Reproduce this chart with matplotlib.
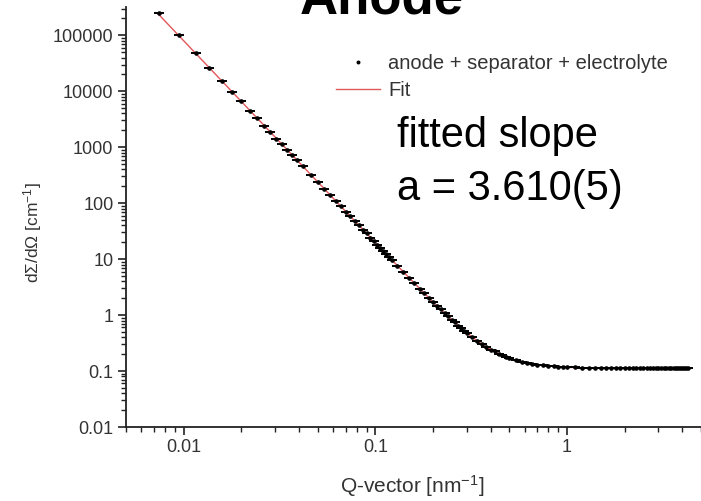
import matplotlib
matplotlib.use("Agg")
import matplotlib.pyplot as plt
import numpy as np
from matplotlib.ticker import FixedLocator, FixedFormatter, LogLocator, NullFormatter

plt.rcParams["font.family"] = ["Liberation Sans", "DejaVu Sans"]
plt.rcParams["mathtext.fontset"] = "custom"
plt.rcParams["mathtext.rm"] = "Liberation Sans"
plt.rcParams["mathtext.it"] = "Liberation Sans:italic"
plt.rcParams["mathtext.bf"] = "Liberation Sans:bold"

# Scattering vector Q [nm^-1]
q_nm = [0.0074, 0.0095, 0.0116, 0.0136, 0.0158, 0.0178, 0.0200, 0.0221,
        0.0241, 0.0262, 0.0283, 0.0304, 0.0325, 0.0346, 0.0367, 0.0388,
        0.042, 0.046, 0.050, 0.054, 0.058, 0.062, 0.066, 0.070, 0.074,
        0.078, 0.082, 0.086, 0.090, 0.094, 0.098, 0.102, 0.106, 0.110,
        0.114, 0.118, 0.122,
        0.13, 0.14, 0.15, 0.16, 0.17, 0.18, 0.19, 0.20, 0.21, 0.22, 0.23,
        0.24, 0.25, 0.26, 0.27, 0.28, 0.29, 0.30, 0.32, 0.34, 0.36, 0.38,
        0.40, 0.42, 0.44, 0.46, 0.48, 0.50,
        0.54, 0.58, 0.62, 0.66, 0.70, 0.75, 0.80, 0.85, 0.90, 0.95, 1.0,
        1.1, 1.2, 1.3, 1.4, 1.5, 1.6, 1.7, 1.8, 1.9, 2.0, 2.1, 2.2, 2.3,
        2.4, 2.5, 2.6, 2.7, 2.8, 2.9, 3.0, 3.1, 3.2, 3.3, 3.4, 3.5, 3.6,
        3.7, 3.8, 3.9, 4.0, 4.1, 4.2, 4.3]

# Macroscopic cross section dSigma/dOmega [cm^-1]
cross_section = [2.48e5, 1.02e5, 4.75e4, 2.55e4, 1.55e4, 9.7e3, 6.6e3, 4.48e3,
                 3.38e3, 2.43e3, 1.88e3, 1.42e3, 1.14e3, 890, 738, 592,
                 452, 318, 242, 178, 141, 108, 88.5, 70.2, 58.6,
                 47.3, 40.5, 33.2, 28.9, 24.1, 21.3, 18.0, 16.1, 13.8,
                 12.4, 10.7, 9.75,
                 7.6, 5.98, 4.58, 3.72, 2.95, 2.47, 2.02, 1.73, 1.44, 1.26, 1.07,
                 0.948, 0.822, 0.739, 0.649, 0.591, 0.527, 0.486, 0.402, 0.351,
                 0.301, 0.272, 0.241, 0.224, 0.203, 0.192, 0.179, 0.172,
                 0.157, 0.147, 0.139, 0.135, 0.130, 0.127, 0.124, 0.122, 0.120,
                 0.119, 0.118,
                 0.1165, 0.1155, 0.115, 0.1145, 0.1142, 0.1140, 0.1136, 0.1138,
                 0.1134, 0.1135, 0.1132, 0.1133, 0.1130, 0.1134, 0.1131, 0.1129,
                 0.1132, 0.1128, 0.1131, 0.1127, 0.1130, 0.1126, 0.1129, 0.1125,
                 0.1128, 0.1124, 0.1127, 0.1123, 0.1126, 0.1122, 0.1125, 0.1121,
                 0.1124]

# Power law + flat background fit parameters
FIT_SLOPE = 3.610
FIT_SCALE = 0.0048
FIT_BACKGROUND = 0.112

x_ticks = [0.01, 0.1, 1]
x_tick_labels = ["0.01", "0.1", "1"]
y_ticks = [0.01, 0.1, 1, 10, 100, 1000, 10000, 100000]
y_tick_labels = ["0.01", "0.1", "1", "10", "100", "1000", "10000", "100000"]

fig = plt.figure(figsize=(7.01, 5.01), dpi=100)
ax = fig.add_axes([126 / 701, 74 / 501, 575 / 701, 420 / 501])

q_fit = np.logspace(np.log10(min(q_nm)), np.log10(max(q_nm)), 400)
i_fit = FIT_SCALE * q_fit ** (-FIT_SLOPE) + FIT_BACKGROUND
ax.plot(q_fit, i_fit, color="#e2575a", lw=1.0, zorder=2, label="Fit")

ax.plot(q_nm, cross_section, linestyle="none", marker="_", ms=7, mew=1.4,
        color="black", zorder=3)
ax.plot(q_nm, cross_section, linestyle="none", marker="o", ms=2.3,
        color="black", zorder=4, label="anode + separator + electrolyte")

ax.set_xscale("log")
ax.set_yscale("log")
ax.set_xlim(0.005, 5)
ax.set_ylim(0.01, 3.2e5)

ax.xaxis.set_major_locator(FixedLocator(x_ticks))
ax.xaxis.set_major_formatter(FixedFormatter(x_tick_labels))
ax.yaxis.set_major_locator(FixedLocator(y_ticks))
ax.yaxis.set_major_formatter(FixedFormatter(y_tick_labels))
ax.xaxis.set_minor_locator(LogLocator(base=10, subs=np.arange(2, 10), numticks=20))
ax.yaxis.set_minor_locator(LogLocator(base=10, subs=np.arange(2, 10), numticks=20))
ax.xaxis.set_minor_formatter(NullFormatter())
ax.yaxis.set_minor_formatter(NullFormatter())

for side in ("top", "right"):
    ax.spines[side].set_visible(False)
for side in ("left", "bottom"):
    ax.spines[side].set_linewidth(1.3)
    ax.spines[side].set_color("#222222")

ax.tick_params(which="major", direction="out", length=6, width=1.2,
               colors="#222222", labelsize=13, labelcolor="#333333", pad=3)
ax.tick_params(which="minor", direction="out", length=3.5, width=1.0,
               colors="#222222")

ax.set_xlabel("Q-vector [nm$^{\\mathregular{-1}}$]", fontsize=15, color="#333333")
ax.xaxis.set_label_coords(0.497, -0.14)
ax.xaxis.label.set_verticalalignment("center")
ax.set_ylabel("d\u03a3/d\u03a9 [cm$^{\\mathregular{-1}}$]", fontsize=12.5,
              color="#333333")
ax.yaxis.set_label_coords(-0.162, 0.464)
ax.yaxis.label.set_verticalalignment("center")

handles, labels = ax.get_legend_handles_labels()
order = [labels.index("anode + separator + electrolyte"), labels.index("Fit")]
ax.legend([handles[i] for i in order], [labels[i] for i in order],
          loc="upper left", bbox_to_anchor=(336 / 701, 1 - 54 / 501),
          bbox_transform=fig.transFigure, frameon=False, fontsize=14.5,
          handlelength=2.2, handletextpad=0.4, labelspacing=0.4,
          borderpad=0, borderaxespad=0, labelcolor="#333333", markerscale=0.8)

fig.text(382 / 701, 1 - 14 / 501, "Anode", fontsize=38, fontweight="bold",
         ha="center", va="baseline", color="black")
fig.text(397 / 701, 1 - 147 / 501, "fitted slope", fontsize=30,
         ha="left", va="baseline", color="black")
fig.text(397 / 701, 1 - 200 / 501, f"a = {FIT_SLOPE:.3f}(5)", fontsize=30,
         ha="left", va="baseline", color="black")

fig.savefig("out.png", dpi=100)
